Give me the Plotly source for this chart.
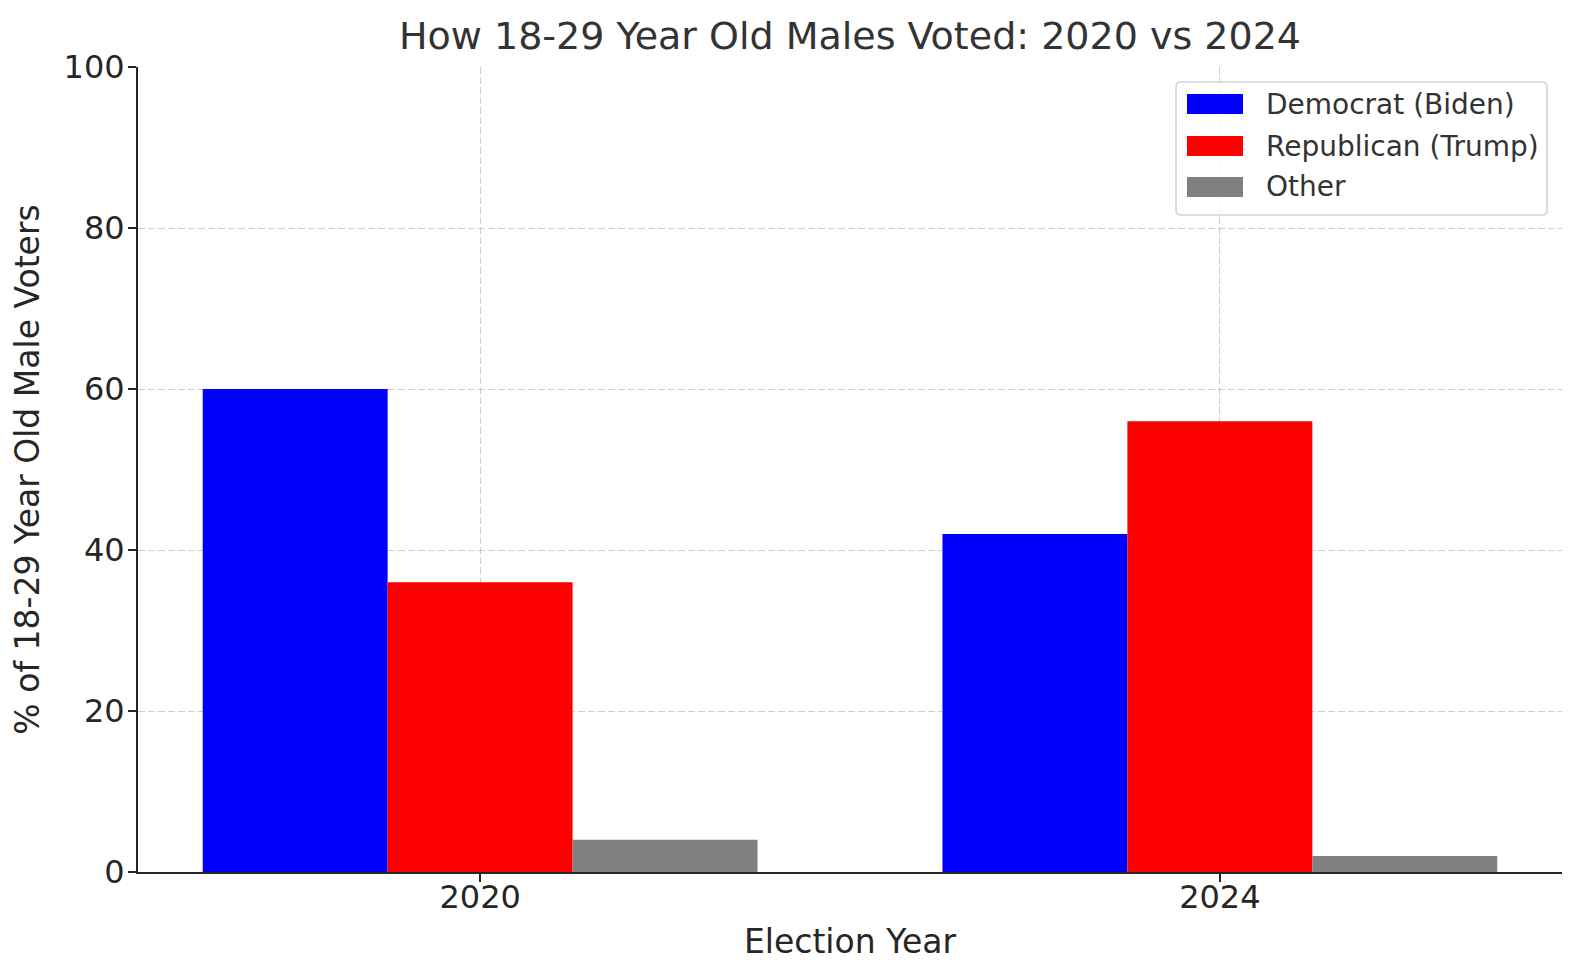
import plotly.graph_objects as go

# ---- data ----
years = ["2020", "2024"]
series_names = ["Democrat (Biden)", "Republican (Trump)", "Other"]
democrat = [60, 42]
republican = [36, 56]
other = [4, 2]
series_colors = ["#0000ff", "#ff0000", "#808080"]
y_ticks = [0, 20, 40, 60, 80, 100]

# page body has an 8px margin; size the figure so it fits the 1580x980 window
OFF = 8
W, H = 1580 - 2 * OFF, 980 - 2 * OFF
# plot area in window pixels: x 138..1562, y 67..872
L, R, T, B = 138 - OFF, OFF + W - 1562, 67 - OFF, OFF + H - 872
PW, PH = W - L - R, H - T - B

def px_x(x):  # window px -> paper
    return (x - OFF - L) / PW

def px_y(y):
    return (OFF + H - B - y) / PH

FONT = "DejaVu Sans"
xpos = list(range(len(years)))

fig = go.Figure()
for name, vals, col in zip(series_names, [democrat, republican, other], series_colors):
    fig.add_trace(go.Bar(x=xpos, y=vals, name=name, marker=dict(color=col, line=dict(width=0)),
                         showlegend=False))

grid_col = "rgba(128,128,128,0.38)"
fig.update_layout(
    width=W, height=H,
    margin=dict(l=L, r=R, t=T, b=B, autoexpand=False),
    paper_bgcolor="white", plot_bgcolor="white",
    barmode="group", bargap=0.25, bargroupgap=0,
    font=dict(family=FONT, color="#262626"),
    title=dict(text="How 18-29 Year Old Males Voted: 2020 vs 2024",
               x=0.5, xref="paper", xanchor="center",
               y=1 - (36 - OFF) / H, yref="container", yanchor="middle",
               font=dict(family=FONT, size=38, color="#333333")),
    xaxis=dict(range=[-0.4625, 1.4625], tickmode="array", tickvals=xpos, ticktext=years,
               showgrid=True, gridcolor=grid_col, griddash="7px,3px", gridwidth=1.3,
               showline=True, linecolor="#262626", linewidth=2, mirror=False,
               ticks="outside", ticklen=8, tickwidth=1.8, tickcolor="#262626",
               tickfont=dict(family=FONT, size=32, color="#262626"),
               ticklabelstandoff=-12,
               zeroline=False, layer="above traces",
               title=dict(text="Election Year", standoff=14,
                          font=dict(family=FONT, size=33, color="#262626"))),
    yaxis=dict(range=[0, 100], tickmode="array", tickvals=y_ticks,
               showgrid=True, gridcolor=grid_col, griddash="7px,3px", gridwidth=1.3,
               showline=True, linecolor="#262626", linewidth=2, mirror=False,
               ticks="outside", ticklen=8, tickwidth=1.8, tickcolor="#262626",
               tickfont=dict(family=FONT, size=32, color="#262626"),
               ticklabelstandoff=-3,
               zeroline=False, layer="above traces",
               title=dict(text="% of 18-29 Year Old Male Voters", standoff=15,
                          font=dict(family=FONT, size=33, color="#262626"))),
)

# ---- legend drawn as shapes + text (matplotlib-style) ----
x0, x1, y0, y1, r = 1176, 1547, 82, 215, 5
path = (f"M {px_x(x0 + r)},{px_y(y0)} L {px_x(x1 - r)},{px_y(y0)} "
        f"Q {px_x(x1)},{px_y(y0)} {px_x(x1)},{px_y(y0 + r)} "
        f"L {px_x(x1)},{px_y(y1 - r)} Q {px_x(x1)},{px_y(y1)} {px_x(x1 - r)},{px_y(y1)} "
        f"L {px_x(x0 + r)},{px_y(y1)} Q {px_x(x0)},{px_y(y1)} {px_x(x0)},{px_y(y1 - r)} "
        f"L {px_x(x0)},{px_y(y0 + r)} Q {px_x(x0)},{px_y(y0)} {px_x(x0 + r)},{px_y(y0)} Z")
fig.add_shape(type="path", path=path, xref="paper", yref="paper",
              fillcolor="rgba(255,255,255,0.8)", line=dict(color="#d4d4d4", width=1.6), layer="above")
row_centers = [104, 146, 187]
for name, col, yc in zip(series_names, series_colors, row_centers):
    fig.add_shape(type="rect", xref="paper", yref="paper",
                  x0=px_x(1187), x1=px_x(1243), y0=px_y(yc - 10), y1=px_y(yc + 10),
                  fillcolor=col, line=dict(width=0), layer="above")
    fig.add_annotation(text=name, xref="paper", yref="paper", x=px_x(1264), y=px_y(yc),
                       xanchor="left", yanchor="middle", showarrow=False,
                       font=dict(family=FONT, size=28, color="#333333"))

fig.write_html("out.html")
